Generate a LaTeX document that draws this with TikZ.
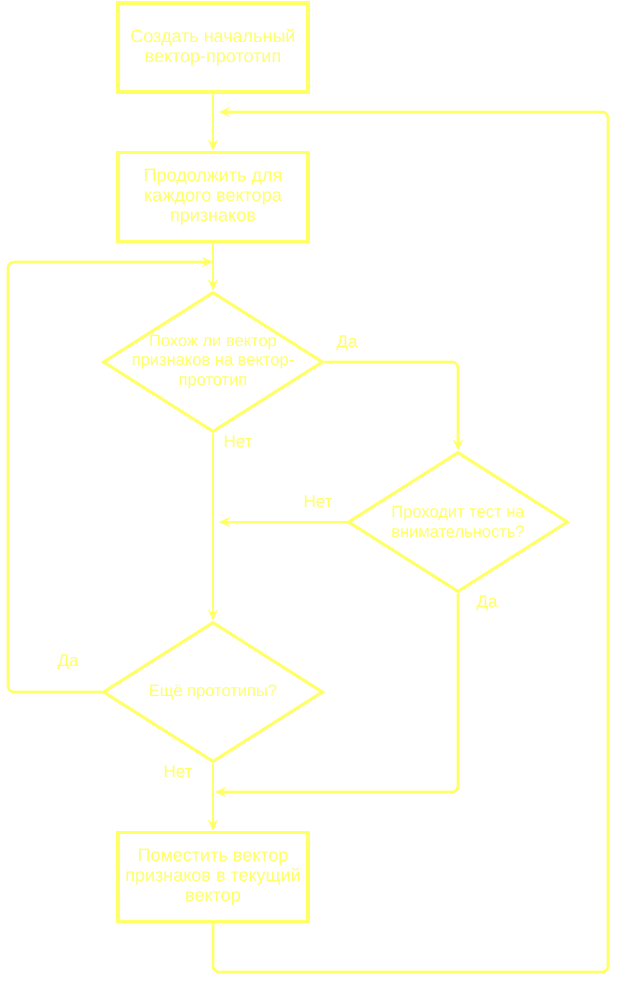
\documentclass[tikz,border=0pt]{standalone}
\usepackage{fontspec}
\setmainfont{Liberation Sans}
\usetikzlibrary{shapes.geometric,arrows.meta}
\definecolor{flowyellow}{RGB}{255,255,102}
\tikzset{
	stepbox/.style={draw=flowyellow, line width=3.5pt, minimum width=190pt, minimum height=89pt, inner sep=0pt, align=center, text=flowyellow, font=\fontsize{18}{20}\selectfont},
	decision/.style={diamond, draw=flowyellow, line width=3pt, minimum width=220pt, minimum height=140pt, inner sep=0pt},
	decisiontext/.style={align=center, text=flowyellow, font=\fontsize{16.5}{19.5}\selectfont},
	flowlabel/.style={text=flowyellow, font=\fontsize{17}{19}\selectfont},
	flow/.style={draw=flowyellow, line width=2.6pt, rounded corners=6pt, -{Stealth[length=11pt,width=10pt]}},
}
\begin{document}
\begin{tikzpicture}[x=1pt,y=-1pt]
	\fill [white] (0,0) rectangle (618,982);
	
	% boxes and decisions
	\node [stepbox] (start) at (213,47.5) {Создать начальный\\вектор-прототип};
	\node [stepbox] (loop) at (213,197) {Продолжить для\\каждого вектора\\признаков};
	\node [decision, label={[decisiontext]center:Похож ли вектор\\признаков на вектор-\\прототип}] (similar) at (213,362) {};
	\node [decision, label={[decisiontext]center:Проходит тест на\\внимательность?}] (attention) at (458,522) {};
	\node [decision, label={[decisiontext]center:Ещё прототипы?}] (more) at (213,692) {};
	\node [stepbox] (place) at (213,877) {Поместить вектор\\признаков в текущий\\вектор};
	
	% labels
	\node [flowlabel] (simyes) at (347,343) {Да};
	\node [flowlabel] (simno) at (238,442) {Нет};
	\node [flowlabel] (attno) at (318,502) {Нет};
	\node [flowlabel] (attyes) at (487,603) {Да};
	\node [flowlabel] (moreyes) at (68,662) {Да};
	\node [flowlabel] (moreno) at (178,772) {Нет};
	
	% free ends and bends
	\coordinate (attnoend) at (219,522);
	\coordinate (attyesend) at (215,792);
	\coordinate (leftbend) at (8,262);
	\coordinate (leftend) at (213,262);
	\coordinate (bottombend) at (608,972);
	\coordinate (topbend) at (608,112);
	\coordinate (topend) at (219,112);
	
	\draw [flow] (start) -- (loop);
	\draw [flow] (loop) -- (similar);
	\draw [flow] (similar.east) -| (attention.north);
	\draw [flow] (similar.south) -- (more.north);
	\draw [flow] (attention.west) -- (attnoend);
	\draw [flow] (attention.south) |- (attyesend);
	\draw [flow] (more.west) -| (leftbend) -- (leftend);
	\draw [flow] (more.south) -- (place.north);
	\draw [flow] (place.south) |- (bottombend) -- (topbend) -- (topend);
\end{tikzpicture}
\end{document}
